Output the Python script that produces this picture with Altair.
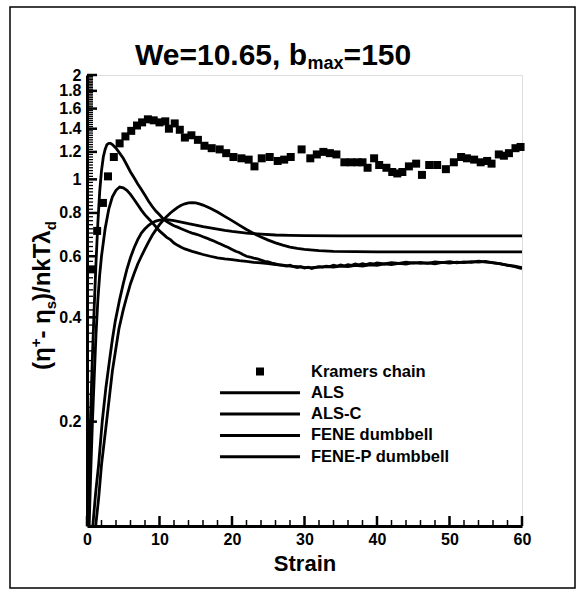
import altair as alt
import pandas as pd

FONT = "Liberation Sans"

series_names = ["Kramers chain", "ALS", "ALS-C", "FENE dumbbell", "FENE-P dumbbell"]

# Kramers chain (squares)
kramers_strain = [0.6, 1.4, 2.2, 2.9, 3.7, 4.5, 5.3, 6.1, 6.9, 7.6, 8.4, 9.2, 10.0, 10.8, 11.3,
                  12.1, 12.8, 13.5, 14.4, 15.3, 16.2, 17.2, 18.3, 19.2, 20.2, 21.3, 22.3, 23.1,
                  24.1, 25.2, 26.3, 27.2, 28.1, 29.6, 30.8, 31.7, 32.6, 33.5, 34.4, 35.5, 36.4,
                  37.3, 38.0, 38.7, 39.6, 40.3, 41.3, 42.1, 42.8, 43.5, 44.4, 45.4, 46.2, 47.2,
                  48.3, 49.5, 50.6, 51.6, 52.4, 53.4, 54.3, 55.2, 55.8, 56.8, 57.5, 58.2, 59.1, 59.8]
kramers_value = [0.55, 0.71, 0.855, 1.02, 1.16, 1.27, 1.33, 1.38, 1.43, 1.46, 1.49, 1.48, 1.46, 1.47, 1.40,
                 1.45, 1.39, 1.32, 1.34, 1.30, 1.25, 1.23, 1.22, 1.19, 1.16, 1.15, 1.14, 1.09,
                 1.15, 1.16, 1.13, 1.14, 1.16, 1.22, 1.15, 1.18, 1.20, 1.19, 1.18, 1.12, 1.12,
                 1.12, 1.12, 1.08, 1.15, 1.10, 1.08, 1.05, 1.04, 1.05, 1.09, 1.11, 1.03, 1.10,
                 1.10, 1.07, 1.12, 1.16, 1.15, 1.14, 1.12, 1.13, 1.11, 1.18, 1.17, 1.19, 1.23, 1.24]

# ALS (tall overshoot, noisy tail)
als_strain = [0.15, 0.3, 0.5, 0.75, 1.0, 1.25, 1.5, 1.75, 2.0, 2.25, 2.5, 2.75, 3.0, 3.25, 3.5, 4.0,
              4.5, 5.0, 5.5, 6.0, 6.5, 7.0, 7.5, 8.0, 8.5, 9.0, 9.5, 10.0, 10.5, 11.0, 11.5, 12.0,
              12.5, 13.0, 13.5, 14.0, 14.5, 15.0, 15.5, 16.0, 16.5, 17.0, 17.5, 18.0, 18.5, 19.0,
              19.5, 20.0, 20.5, 21.0, 21.5, 22.0, 22.5, 23.0, 23.5, 24.0, 24.5, 25.0, 25.5, 26.0,
              26.5, 27.0, 27.5, 28.0, 28.5, 29.0, 29.5, 30.0, 30.5, 31.0, 31.5, 32.0, 32.5, 33.0,
              33.5, 34.0, 34.5, 35.0, 35.5, 36.0, 36.5, 37.0, 37.5, 38.0, 38.5, 39.0, 39.5, 40.0,
              41.0, 42.0, 43.0, 44.0, 45.0, 46.0, 47.0, 48.0, 49.0, 50.0, 51.0, 52.0, 53.0, 54.0,
              55.0, 56.0, 57.0, 58.0, 59.0, 60.0]
als_value = [0.1, 0.14, 0.21, 0.31, 0.43, 0.58, 0.75, 0.92, 1.06, 1.16, 1.22, 1.26, 1.27, 1.27, 1.26, 1.23,
             1.19, 1.15, 1.10, 1.05, 1.01, 0.97, 0.935, 0.90, 0.865, 0.835, 0.81, 0.79, 0.77, 0.755, 0.745, 0.735,
             0.728, 0.72, 0.713, 0.706, 0.70, 0.695, 0.69, 0.683, 0.677, 0.67, 0.664, 0.656, 0.65, 0.642,
             0.636, 0.628, 0.62, 0.615, 0.607, 0.60, 0.597, 0.593, 0.59, 0.585, 0.58, 0.578, 0.573, 0.57,
             0.567, 0.565, 0.562, 0.565, 0.56, 0.557, 0.56, 0.555, 0.558, 0.553, 0.557, 0.56, 0.558, 0.562,
             0.56, 0.565, 0.562, 0.566, 0.563, 0.567, 0.565, 0.57, 0.567, 0.571, 0.568, 0.572, 0.57, 0.574,
             0.57, 0.575, 0.572, 0.577, 0.573, 0.576, 0.572, 0.578, 0.575, 0.579, 0.574, 0.578, 0.576, 0.581,
             0.577, 0.575, 0.57, 0.566, 0.562, 0.556]

# ALS-C (smaller overshoot, noisy tail)
alsc_strain = [0.3, 0.5, 0.75, 1.0, 1.25, 1.5, 1.75, 2.0, 2.5, 3.0, 3.5, 4.0, 4.5, 5.0, 5.5, 6.0, 6.5,
               7.0, 7.5, 8.0, 8.5, 9.0, 9.5, 10.0, 10.5, 11.0, 11.5, 12.0, 12.5, 13.0, 13.5, 14.0,
               14.5, 15.0, 16.0, 17.0, 18.0, 19.0, 20.0, 21.0, 22.0, 23.0, 24.0, 25.0, 26.0, 27.0,
               28.0, 29.0, 30.0, 31.0, 32.0, 33.0, 34.0, 35.0, 36.0, 37.0, 38.0, 39.0, 40.0, 41.0,
               42.0, 43.0, 44.0, 45.0, 46.0, 47.0, 48.0, 49.0, 50.0, 51.0, 52.0, 53.0, 54.0, 55.0,
               56.0, 57.0, 58.0, 59.0, 60.0]
alsc_value = [0.1, 0.14, 0.2, 0.27, 0.36, 0.45, 0.53, 0.6, 0.72, 0.82, 0.89, 0.93, 0.95, 0.945, 0.93, 0.905, 0.875,
              0.845, 0.815, 0.79, 0.77, 0.75, 0.73, 0.71, 0.695, 0.68, 0.67, 0.655, 0.645, 0.637, 0.63, 0.625,
              0.62, 0.616, 0.607, 0.60, 0.594, 0.59, 0.587, 0.583, 0.58, 0.576, 0.574, 0.571, 0.568, 0.566,
              0.562, 0.56, 0.557, 0.556, 0.558, 0.56, 0.558, 0.562, 0.56, 0.565, 0.562, 0.567, 0.565, 0.57,
              0.568, 0.572, 0.57, 0.575, 0.572, 0.574, 0.571, 0.576, 0.573, 0.577, 0.575, 0.579, 0.577, 0.58,
              0.574, 0.571, 0.565, 0.56, 0.553]

# FENE dumbbell (late, broad overshoot)
fene_strain = [1.2, 1.6, 2.0, 2.7, 3.5, 4.4, 5.0, 5.5, 6.0, 6.5, 7.0, 7.5, 8.0, 8.5, 9.0, 9.5, 10.0,
               10.5, 11.0, 11.5, 12.0, 12.5, 13.0, 13.5, 14.0, 14.5, 15.0, 15.5, 16.0, 17.0, 18.0,
               19.0, 20.0, 21.0, 22.0, 23.0, 24.0, 25.0, 26.0, 27.0, 28.0, 29.0, 30.0, 32.0, 34.0,
               37.0, 40.0, 50.0, 60.0]
fene_value = [0.1, 0.12, 0.15, 0.2, 0.28, 0.37, 0.42, 0.46, 0.5, 0.535, 0.57, 0.6, 0.63, 0.66, 0.69, 0.715, 0.74,
              0.762, 0.782, 0.80, 0.815, 0.83, 0.842, 0.85, 0.855, 0.857, 0.855, 0.85, 0.843, 0.825, 0.805,
              0.782, 0.76, 0.738, 0.717, 0.698, 0.682, 0.668, 0.656, 0.646, 0.638, 0.632, 0.628, 0.623, 0.62,
              0.619, 0.618, 0.618, 0.618]

# FENE-P dumbbell (rise to plateau)
fenep_strain = [0.8, 1.2, 1.6, 2.1, 2.6, 3.1, 3.5, 3.9, 4.5, 5.0, 5.5, 6.0, 6.5, 7.0, 7.5, 8.0, 8.5,
                9.0, 9.5, 10.0, 11.0, 12.0, 13.0, 14.0, 15.0, 16.0, 17.0, 18.0, 19.0, 20.0, 22.0,
                24.0, 26.0, 28.0, 30.0, 35.0, 40.0, 50.0, 60.0]
fenep_value = [0.1, 0.125, 0.15, 0.2, 0.25, 0.3, 0.345, 0.39, 0.45, 0.5, 0.55, 0.595, 0.635, 0.67, 0.70, 0.72, 0.737,
               0.75, 0.758, 0.763, 0.765, 0.76, 0.753, 0.745, 0.738, 0.731, 0.725, 0.719, 0.713, 0.708, 0.70,
               0.695, 0.691, 0.689, 0.688, 0.687, 0.687, 0.687, 0.687]

x_major = [0, 10, 20, 30, 40, 50, 60]
y_labels = [0.2, 0.4, 0.6, 0.8, 1.0, 1.2, 1.4, 1.6, 1.8, 2.0]

W, H = 435, 451

lines_df = pd.concat([
    pd.DataFrame({"strain": als_strain, "value": als_value, "series": "ALS"}),
    pd.DataFrame({"strain": alsc_strain, "value": alsc_value, "series": "ALS-C"}),
    pd.DataFrame({"strain": fene_strain, "value": fene_value, "series": "FENE dumbbell"}),
    pd.DataFrame({"strain": fenep_strain, "value": fenep_value, "series": "FENE-P dumbbell"}),
], ignore_index=True)
kramers_df = pd.DataFrame({"strain": kramers_strain, "value": kramers_value, "series": "Kramers chain"})

x_minor = [v for v in range(0, 61, 2) if v % 10 != 0]
y_minor = [round(0.2 + 0.02 * i, 2) for i in range(91)]

X = alt.X("strain:Q",
          scale=alt.Scale(domain=[0, 60], nice=False, zero=False),
          axis=alt.Axis(values=x_major, ticks=False, grid=False, domainColor="black", domainWidth=3,
                        labelFont=FONT, labelFontWeight="bold", labelFontSize=16, labelColor="black",
                        labelPadding=5, labelFlush=False, labelOverlap=False,
                        title="Strain", titleFont=FONT, titleFontWeight="bold",
                        titleFontSize=22, titleColor="black", titlePadding=6))
Y = alt.Y("value:Q",
          scale=alt.Scale(type="log", domain=[0.1, 2], nice=False, zero=False),
          axis=alt.Axis(values=y_labels, format="~g", ticks=False, grid=False, domainColor="black",
                        domainWidth=3, labelFont=FONT, labelFontWeight="bold", labelFontSize=16,
                        labelColor="black", labelPadding=6, labelFlush=False, labelOverlap=False,
                        title=None))

lines = alt.Chart(lines_df).mark_line(color="black", strokeWidth=2.8, clip=True).encode(
    x=X, y=Y, detail="series:N")

square_path = "M-0.1,-0.1H0.1V0.1H-0.1Z"
line_path = "M-1,-0.0375H1V0.0375H-1Z"
points = alt.Chart(kramers_df).mark_point(filled=True, size=6400, opacity=1, color="black").encode(
    x=X, y=Y,
    shape=alt.Shape("series:N",
                    scale=alt.Scale(domain=series_names,
                                    range=[square_path, line_path, line_path, line_path, line_path]),
                    legend=alt.Legend(orient="none", legendX=133, legendY=286, title=None,
                                      symbolSize=6400, symbolFillColor="black", symbolStrokeWidth=0,
                                      symbolOffset=0, clipHeight=21, rowPadding=0.3, padding=0,
                                      labelFont=FONT, labelFontWeight="bold", labelFontSize=16.5,
                                      labelColor="black", labelOffset=11, labelLimit=0)))

# inward ticks
xt_major = alt.Chart(pd.DataFrame({"strain": x_major})).mark_tick(
    color="black", orient="vertical", size=10, thickness=2.5, opacity=1).encode(x=X, y=alt.value(H - 5))
xt_minor = alt.Chart(pd.DataFrame({"strain": x_minor})).mark_tick(
    color="black", orient="vertical", size=6, thickness=1.5, opacity=1).encode(x=X, y=alt.value(H - 3))
yt_minor = alt.Chart(pd.DataFrame({"value": y_minor})).mark_tick(
    color="black", orient="horizontal", size=6, thickness=1.3, opacity=1).encode(y=Y, x=alt.value(3))
yt_major = alt.Chart(pd.DataFrame({"value": y_labels})).mark_tick(
    color="black", orient="horizontal", size=10, thickness=2.5, opacity=1).encode(y=Y, x=alt.value(5))

one = pd.DataFrame({"a": [0]})

def txt(s, x, y, size, angle=0):
    kw = dict(text=s, font=FONT, fontWeight="bold", fontSize=size, color="black",
              align="left", baseline="alphabetic")
    if angle:
        kw["angle"] = angle
    return alt.Chart(one).mark_text(**kw).encode(x=alt.value(x), y=alt.value(y))

# title: We=10.65, b_max=150
t_main, t_sub = 30, 18
wA = 5.753 * t_main
wM = 2.001 * t_sub
title_layers = [
    txt("We=10.65, b", 48, -10, t_main),
    txt("max", 48 + wA, -6, t_sub),
    txt("=150", 48 + wA + wM, -10, t_main),
]

# y title: (η+- ηs)/nkTλd, rotated
f, fs = 24, 15
xb = -37
y0 = 295
w1 = (0.333 + 0.61) * f
w2 = 0.584 * fs
w3 = (0.333 + 0.278 + 0.61) * f
w4 = 0.556 * fs
w5 = (0.333 + 0.278 + 0.611 + 0.556 + 0.611 + 0.556) * f
ytitle_layers = [
    txt("(η", xb, y0, f, 270),
    txt("+", xb - 9, y0 - w1, fs, 270),
    txt("- η", xb, y0 - w1 - w2, f, 270),
    txt("s", xb + 6, y0 - w1 - w2 - w3, fs, 270),
    txt(")/nkTλ", xb, y0 - w1 - w2 - w3 - w4, f, 270),
    txt("d", xb + 6, y0 - w1 - w2 - w3 - w4 - w5, fs, 270),
]

border = alt.Chart(one).mark_rect(filled=False, stroke="black", strokeWidth=1.5).encode(
    x=alt.value(-77), x2=alt.value(488), y=alt.value(-68), y2=alt.value(513))

chart = alt.layer(
    lines, points, border, xt_major, xt_minor, yt_minor, yt_major, *title_layers, *ytitle_layers
).properties(
    width=W, height=H, autosize="none",
    padding={"left": 87, "top": 75, "right": 59, "bottom": 64},
).configure_view(stroke=None).configure(background="white")

chart.save("out.html", embed_options={"renderer": "svg", "actions": False})
